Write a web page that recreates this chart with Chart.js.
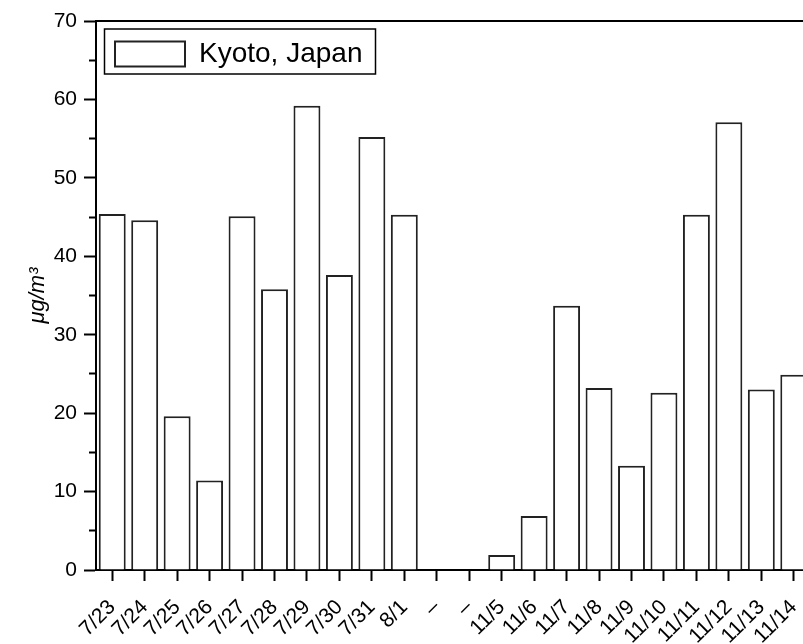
<!DOCTYPE html>
<html>
<head>
<meta charset="utf-8">
<script src="https://cdn.jsdelivr.net/npm/chart.js@4.4.1/dist/chart.umd.min.js"></script>
<style>
    html, body { margin: 0; padding: 0; overflow: hidden; background: #fff; }
    canvas { display: block; }
</style>
</head>
<body>
<canvas id="kyotoChart" width="811" height="644"></canvas>
<script>
// Dates on the x axis (two gaps between the summer and autumn runs)
var dates = ['7/23', '7/24', '7/25', '7/26', '7/27', '7/28', '7/29', '7/30', '7/31', '8/1',
    '\u2013', '\u2013',
    '11/5', '11/6', '11/7', '11/8', '11/9', '11/10', '11/11', '11/12', '11/13', '11/14'];

// Concentration values, ug/m3
var kyotoValues = [45.4, 44.6, 19.6, 11.4, 45.1, 35.8, 59.2, 37.6, 55.2, 45.3,
    null, null,
    1.9, 6.9, 33.7, 23.2, 13.3, 22.6, 45.3, 57.1, 23.0, 24.9];

var yTicksMajor = [0, 10, 20, 30, 40, 50, 60, 70];

var FONT = 'Liberation Sans, Arial, sans-serif';

// keeps the legend inside the plot, draws the top frame line and the legend box
var framePlugin = {
    id: 'frame',
    afterLayout: function (chart) {
        var lg = chart.legend;
        var h = lg.height, w = lg.width;
        lg.left = chart.chartArea.left;
        lg.top = chart.chartArea.top;
        lg.right = lg.left + w;
        lg.bottom = lg.top + h;
    },
    afterDraw: function (chart) {
        var ctx = chart.ctx;
        var area = chart.chartArea;
        ctx.save();
        ctx.strokeStyle = '#000';
        ctx.lineWidth = 2;
        ctx.beginPath();
        ctx.moveTo(area.left, area.top);
        ctx.lineTo(area.right + 10, area.top);
        ctx.stroke();

        ctx.lineWidth = 1.5;
        ctx.strokeRect(area.left + 8.5, area.top + 8, 271, 45);
        ctx.restore();
    }
};

var ctx = document.getElementById('kyotoChart').getContext('2d');

var data = {
    labels: dates,
    datasets: [{
        label: 'Kyoto, Japan',
        data: kyotoValues,
        backgroundColor: '#ffffff',
        borderColor: '#222222',
        borderWidth: 2,
        categoryPercentage: 1.0,
        barPercentage: 0.83
    }]
};

var options = {
    responsive: false,
    maintainAspectRatio: false,
    animation: false,
    devicePixelRatio: 1,
    layout: {
        padding: { top: 21, right: 1, left: 0, bottom: 0 }
    },
    plugins: {
        legend: {
            position: 'chartArea',
            align: 'start',
            labels: {
                boxWidth: 70,
                boxHeight: 25,
                padding: 19,
                color: '#000',
                font: { family: FONT, size: 28 }
            }
        },
        tooltip: { enabled: false }
    },
    scales: {
        x: {
            grid: {
                offset: false,
                drawOnChartArea: false,
                drawTicks: true,
                tickLength: 11,
                tickWidth: 2,
                tickColor: '#000'
            },
            border: { display: true, color: '#000', width: 2 },
            ticks: {
                autoSkip: false,
                minRotation: 45,
                maxRotation: 45,
                padding: 14,
                color: '#000',
                font: { family: FONT, size: 21 }
            },
            afterFit: function (scale) {
                scale.height = 74;
                scale.paddingLeft = 0;
                scale.paddingRight = 0;
            }
        },
        y: {
            min: 0,
            max: 70,
            grid: {
                drawOnChartArea: false,
                drawTicks: true,
                tickLength: 12,
                tickWidth: 2,
                tickColor: '#000',
                // minor ticks (5, 15, ...) drawn shorter
                tickBorderDash: function (c) {
                    if (c.tick && yTicksMajor.indexOf(c.tick.value) < 0) return [0, 5, 7, 100];
                    return [];
                }
            },
            border: { display: true, color: '#000', width: 2 },
            ticks: {
                stepSize: 5,
                padding: 7,
                color: '#000',
                font: { family: FONT, size: 21 },
                callback: function (v) { return yTicksMajor.indexOf(v) >= 0 ? v : ''; }
            },
            title: {
                display: true,
                text: '\u03bcg/m\u00b3',
                color: '#000',
                font: { family: FONT, size: 22, style: 'italic' },
                padding: { top: 25, bottom: 0 }
            },
            afterFit: function (scale) { scale.width = 96; }
        }
    }
};

var kyotoChart = new Chart(ctx, {
    type: 'bar',
    data: data,
    options: options,
    plugins: [framePlugin]
});
</script>
</body>
</html>
